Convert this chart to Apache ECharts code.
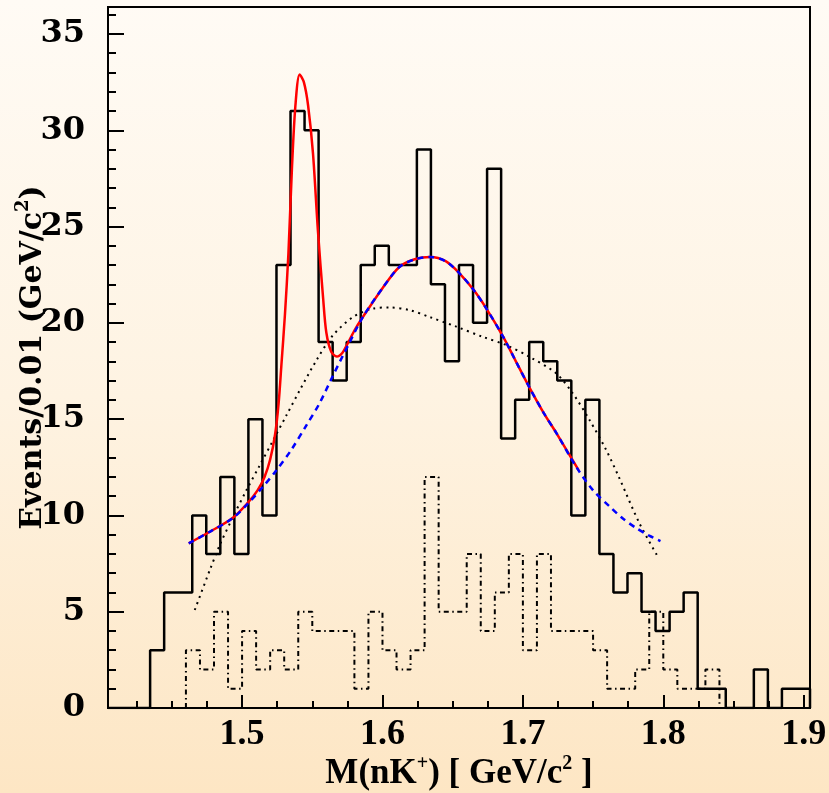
<!DOCTYPE html>
<html>
<head>
<meta charset="utf-8">
<script src="https://cdn.jsdelivr.net/npm/echarts@6.0.0/dist/echarts.min.js"></script>
<style>
  html, body { margin: 0; padding: 0; }
  #chart {
    width: 829px; height: 793px;
    background: linear-gradient(to bottom, #fffbf5 0%, #fef3e2 50%, #fde6c4 100%);
  }
</style>
</head>
<body>
<div id="chart"></div>
<script>
// solid histogram: bins of 0.01 starting at 1.4045
const binStart = 1.4045
const binWidth = 0.01
const counts = [0, 0, 0, 3, 6, 6, 10, 8, 12, 8, 15, 10, 23, 31, 30, 19, 17, 19, 23, 24,
  23, 23, 29, 22, 18, 23, 20, 28, 14, 16, 19, 18, 17, 10, 16, 8, 6, 7, 5, 4,
  5, 6, 1, 1, 0, 0, 2, 0, 1, 1]

// dash-dot histogram: bins of 0.01 starting at 1.46
const sideStart = 1.46
const sideCounts = [3, 2, 5, 1, 4, 2, 3, 2, 5, 4, 4, 4, 1, 5, 3, 2, 3, 12, 5, 5,
  8, 4, 6, 8, 3, 8, 4, 4, 4, 3, 1, 1, 2, 5, 2, 1, 1, 2]

// fit curves as [mass, events]
const fitTotal = [
  [1.462, 8.55], [1.477, 9.15], [1.493, 9.85], [1.504, 10.65], [1.511, 11.3],
  [1.516, 12.0], [1.520, 12.9], [1.5235, 14.2], [1.526, 15.8], [1.528, 17.8],
  [1.5305, 20.4], [1.533, 23.6], [1.5355, 28.0], [1.538, 31.3], [1.541, 32.9],
  [1.544, 32.5], [1.547, 31.3], [1.5505, 28.8], [1.554, 24.8], [1.5577, 21.3],
  [1.560, 19.5], [1.5635, 18.5], [1.5675, 18.25], [1.5715, 18.45], [1.575, 18.9],
  [1.580, 19.6], [1.586, 20.3], [1.600, 21.8], [1.612, 22.9], [1.623, 23.3],
  [1.634, 23.42], [1.645, 23.2], [1.655, 22.56], [1.665, 21.7], [1.674, 20.74],
  [1.686, 19.27], [1.695, 18.0], [1.705, 16.6], [1.715, 15.3], [1.724, 14.26],
  [1.7397, 12.35]
]
const fitBkg = [
  [1.462, 8.55], [1.477, 9.15], [1.493, 9.84], [1.504, 10.6], [1.515, 11.5],
  [1.524, 12.3], [1.535, 13.4], [1.546, 14.7], [1.555, 15.8], [1.565, 17.3],
  [1.576, 18.9], [1.586, 20.3], [1.600, 21.8], [1.612, 22.9], [1.623, 23.3],
  [1.634, 23.42], [1.645, 23.2], [1.655, 22.56], [1.665, 21.7], [1.674, 20.74],
  [1.686, 19.27], [1.695, 18.0], [1.705, 16.6], [1.715, 15.3], [1.724, 14.26],
  [1.738, 12.52], [1.750, 11.3], [1.762, 10.45], [1.771, 9.85], [1.781, 9.33],
  [1.790, 8.95], [1.798, 8.67]
]
const fitAlt = [
  [1.4663, 5.09], [1.477, 7.16], [1.4841, 8.46], [1.4936, 9.93], [1.5031, 11.31],
  [1.5126, 12.6], [1.5221, 13.9], [1.5316, 15.2], [1.5411, 16.5], [1.553, 18.06],
  [1.5648, 19.36], [1.579, 20.3], [1.5932, 20.74], [1.6051, 20.8], [1.6194, 20.66],
  [1.6336, 20.3], [1.6526, 19.8], [1.6715, 19.27], [1.6882, 18.84], [1.7048, 18.23],
  [1.7238, 17.37], [1.7356, 16.33], [1.7475, 14.95], [1.7594, 13.39], [1.7688, 11.92],
  [1.7831, 9.58], [1.7968, 7.77]
]

const xMajor = [1.5, 1.6, 1.7, 1.8, 1.9]
const xMinor = [1.425, 1.45, 1.475, 1.525, 1.55, 1.575, 1.625, 1.65, 1.675,
  1.725, 1.75, 1.775, 1.825, 1.85, 1.875]
const yMajor = [0, 5, 10, 15, 20, 25, 30, 35]
const yMinor = [1, 2, 3, 4, 6, 7, 8, 9, 11, 12, 13, 14, 16, 17, 18, 19, 21, 22, 23, 24,
  26, 27, 28, 29, 31, 32, 33, 34, 36]

const xMin = 1.4045, xMax = 1.9045, yMax = 36.4

// histogram outline as step points
function stepData(start, width, vals) {
  const pts = [[start, 0]]
  vals.forEach((v, i) => pts.push([+(start + i * width).toFixed(4), v]))
  pts.push([+(start + vals.length * width).toFixed(4), 0])
  return pts
}

const serif = 'Liberation Serif'
const wide = 'DejaVu Serif'

const chart = echarts.init(document.getElementById('chart'))
chart.setOption({
  animation: false,
  backgroundColor: 'transparent',
  grid: {
    left: 108, top: 7, right: 19, bottom: 85, containLabel: false, outerBoundsMode: 'none',
    show: true, borderColor: '#000', borderWidth: 2, backgroundColor: 'transparent'
  },
  xAxis: [{
    type: 'value', min: xMin, max: xMax,
    name: 'M(nK{sup|+}) [ GeV/c{sup|2} ]',
    nameLocation: 'middle', nameGap: 46, nameMoveOverlap: false,
    nameTextStyle: {
      fontFamily: serif, fontWeight: 'bold', fontSize: 35, color: '#000', lineHeight: 40,
      rich: { sup: { fontFamily: serif, fontWeight: 'bold', fontSize: 20, verticalAlign: 'top', lineHeight: 20, color: '#000' } }
    },
    axisLine: { lineStyle: { color: '#000', width: 2 } },
    axisTick: { inside: true, length: 13, customValues: xMajor, lineStyle: { color: '#000', width: 2 } },
    axisLabel: { customValues: xMajor, margin: 9, fontFamily: serif, fontWeight: 'bold', fontSize: 36, color: '#000', formatter: v => v.toFixed(1) },
    splitLine: { show: false }
  }, {
    type: 'value', min: xMin, max: xMax, position: 'bottom',
    axisLine: { show: false },
    axisTick: { inside: true, length: 7, customValues: xMinor, lineStyle: { color: '#000', width: 2 } },
    axisLabel: { show: false },
    splitLine: { show: false }
  }],
  yAxis: [{
    type: 'value', min: 0, max: yMax,
    name: 'Events/0.01 (GeV/c{sup|2})',
    nameLocation: 'middle', nameGap: 56, nameRotate: 90, nameMoveOverlap: false,
    nameTextStyle: {
      fontFamily: wide, fontWeight: 'bold', fontSize: 30, color: '#000', lineHeight: 38,
      rich: { sup: { fontFamily: wide, fontWeight: 'bold', fontSize: 18, verticalAlign: 'top', lineHeight: 18, color: '#000' } }
    },
    axisLine: { lineStyle: { color: '#000', width: 2 } },
    axisTick: { inside: true, length: 16, customValues: yMajor, lineStyle: { color: '#000', width: 2 } },
    axisLabel: { customValues: yMajor, margin: 23, fontFamily: wide, fontWeight: 'bold', fontSize: 32, color: '#000' },
    splitLine: { show: false }
  }, {
    type: 'value', min: 0, max: yMax, position: 'left',
    axisLine: { show: false },
    axisTick: { inside: true, length: 8, customValues: yMinor, lineStyle: { color: '#000', width: 2 } },
    axisLabel: { show: false },
    splitLine: { show: false }
  }],
  series: [{
    type: 'line', step: 'end', symbol: 'none', silent: true,
    data: stepData(sideStart, binWidth, sideCounts),
    lineStyle: { color: '#000', width: 2, type: [5, 3.5, 1.5, 3.5] }
  }, {
    type: 'line', step: 'end', symbol: 'none', silent: true,
    data: stepData(binStart, binWidth, counts),
    lineStyle: { color: '#000', width: 2.5 }
  }, {
    type: 'line', symbol: 'none', smooth: 0.3, silent: true,
    data: fitAlt,
    lineStyle: { color: '#000', width: 2, type: [2, 4.5] }
  }, {
    type: 'line', symbol: 'none', smooth: 0.3, silent: true,
    data: fitTotal,
    lineStyle: { color: '#ff0000', width: 2.5 }
  }, {
    type: 'line', symbol: 'none', smooth: 0.3, silent: true,
    data: fitBkg,
    lineStyle: { color: '#0000ff', width: 2.5, type: [6, 5] }
  }]
})
</script>
</body>
</html>
